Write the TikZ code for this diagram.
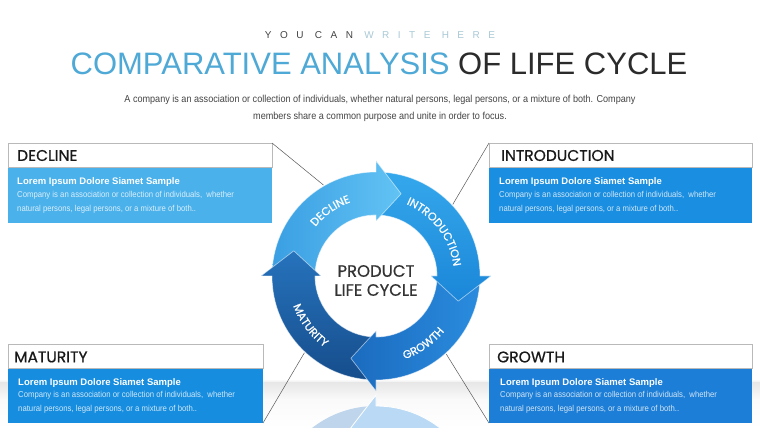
\documentclass[tikz,border=0pt]{standalone}
\usepackage{fontspec}
\setmainfont{Liberation Sans}
\newfontfamily\pop{Poppins}
\newfontfamily\popb[FakeBold=0.6]{Poppins}
\newfontfamily\narrow[FakeStretch=0.9]{Liberation Sans}
\newfontfamily\spaced[LetterSpace=85]{Liberation Sans}
\usetikzlibrary{decorations.text}

\definecolor{tblue}{HTML}{4FA9D6}
\definecolor{tdark}{HTML}{2B2B2B}
\definecolor{subdark}{HTML}{444444}
\definecolor{sublight}{HTML}{A9C9D6}
\definecolor{paragray}{HTML}{444444}
\definecolor{decbox}{HTML}{4AB1EB}
\definecolor{intbox}{HTML}{1A8EE0}
\definecolor{matbox}{HTML}{168DDF}
\definecolor{grobox}{HTML}{1C7ED6}
\definecolor{decA}{HTML}{62C3F4}
\definecolor{decB}{HTML}{3A9FE3}
\definecolor{intA}{HTML}{35A8EC}
\definecolor{intB}{HTML}{1B86D8}
\definecolor{groA}{HTML}{2A8CDE}
\definecolor{groB}{HTML}{1B6BBF}
\definecolor{matA}{HTML}{2673BC}
\definecolor{matB}{HTML}{164D8C}

\def\lcpath#1#2{(#1:104) arc[start angle=#1,end angle=#2,radius=104] -- (#2:115) -- ({#2-17}:86) -- (#2:55) -- (#2:61) arc[start angle=#2,end angle=#1,radius=61] -- cycle}
\newcommand\ringfont{\popb\fontsize{11.2}{13}\selectfont}

\tikzset{
  hdr/.style={draw=gray!55, fill=white, line width=0.6pt, inner sep=0pt, outer sep=0pt, anchor=north west},
  bodybox/.style={fill=#1, draw=none, inner sep=0pt, outer sep=0pt, anchor=north west},
  htext/.style={inner sep=0pt, anchor=west, font=\popb\fontsize{15.5}{17}\selectfont, text=black!90},
  ltext/.style={inner sep=0pt, anchor=base west, font=\bfseries\fontsize{9.5}{11}\selectfont, text=white},
  ctext/.style={inner sep=0pt, anchor=base west, font=\narrow\fontsize{8.6}{10}\selectfont, text=white!80!#1},
  conn/.style={draw=black!65, line width=0.5pt},
  edge/.style={draw=white, opacity=0.55, line width=0.7pt, line join=round},
  ringtext/.style={decorate, decoration={text along path, text align=center, text color=white, text={|\ringfont|#1}}},
  centertext/.style={inner sep=0pt, font=\popb\fontsize{16.5}{19}\selectfont, text=black!80}
}

\begin{document}
\begin{tikzpicture}[x=1pt,y=1pt]
\useasboundingbox (0,0) rectangle (760,428);
\fill[white] (0,0) rectangle (760,428);

% floor
\shade[top color=white, bottom color=gray!18] (0,45) rectangle (760,49);
\shade[top color=gray!18, bottom color=gray!4] (0,28) rectangle (760,45);
\shade[top color=gray!4, bottom color=white] (0,0) rectangle (760,28);

% headings
\node[inner sep=0pt] (sub) at (380,393) {\spaced\fontsize{10}{12}\selectfont\color{subdark}YOU\ CAN\ \color{sublight}WRITE\ HERE};
\node[inner sep=0pt] (title) at (379,364) {\fontsize{31}{36}\selectfont\color{tblue}COMPARATIVE ANALYSIS \color{tdark}OF LIFE CYCLE};
\node[inner sep=0pt, align=center, text=paragray, font=\narrow\fontsize{10.1}{17}\selectfont] (para) at (380,319.5)
  {A company is an association or collection of individuals, whether natural persons, legal persons, or a mixture of both. Company\\ members share a common purpose and unite in order to focus.};

% ring anchor points
\begin{scope}[shift={(376,152)}]
  \coordinate (rc) at (0,0);
  \coordinate (rDec) at (120:105);
  \coordinate (rInt) at (43:105);
  \coordinate (rMat) at (-133:105);
  \coordinate (rGro) at (-48:105);
\end{scope}

% boxes
\node[bodybox=decbox, minimum width=264, minimum height=56] (decB) at (8,261) {};
\node[hdr, minimum width=264, minimum height=24] (decH) at (8,285) {};
\node[htext] (decT) at (17,272.5) {DECLINE};
\node[ltext] (decL) at (17,243.5) {Lorem Ipsum Dolore Siamet Sample};
\node[ctext=decbox] (decC1) at (17,230.5) {Company is an association or collection of individuals,\ \ whether};
\node[ctext=decbox] (decC2) at (17,216.5) {natural persons, legal persons, or a mixture of both..};

\node[bodybox=intbox, minimum width=263, minimum height=56] (intB) at (489,261) {};
\node[hdr, minimum width=263, minimum height=24] (intH) at (489,285) {};
\node[htext] (intT) at (501,272.5) {INTRODUCTION};
\node[ltext] (intL) at (499,243.5) {Lorem Ipsum Dolore Siamet Sample};
\node[ctext=intbox] (intC1) at (499,230.5) {Company is an association or collection of individuals,\ \ whether};
\node[ctext=intbox] (intC2) at (499,216.5) {natural persons, legal persons, or a mixture of both..};

\node[bodybox=matbox, minimum width=255, minimum height=55] (matB) at (8,60) {};
\node[hdr, minimum width=255, minimum height=24] (matH) at (8,84) {};
\node[htext] (matT) at (14,71) {MATURITY};
\node[ltext] (matL) at (18,42.5) {Lorem Ipsum Dolore Siamet Sample};
\node[ctext=matbox] (matC1) at (18,30.5) {Company is an association or collection of individuals,\ \ whether};
\node[ctext=matbox] (matC2) at (18,16.5) {natural persons, legal persons, or a mixture of both..};

\node[bodybox=grobox, minimum width=263, minimum height=55] (groB) at (489,60) {};
\node[hdr, minimum width=263, minimum height=24] (groH) at (489,84) {};
\node[htext] (groT) at (497,71) {GROWTH};
\node[ltext] (groL) at (500,42.5) {Lorem Ipsum Dolore Siamet Sample};
\node[ctext=grobox] (groC1) at (500,30.5) {Company is an association or collection of individuals,\ \ whether};
\node[ctext=grobox] (groC2) at (500,16.5) {natural persons, legal persons, or a mixture of both..};

% connectors
\draw[conn] (decH.north east) -- (rDec);
\draw[conn] (intH.north west) -- (rInt);
\draw[conn] (matB.south east) -- (rMat);
\draw[conn] (groB.south west) -- (rGro);

% reflection
\begin{scope}
  \clip (290,0) rectangle (470,34);
  \begin{scope}[shift={(376,-82)}, yscale=-1]
    \fill[decA!30!white] \lcpath{180}{90};
    \fill[matA!30!white] \lcpath{-90}{-180};
    \fill[groA!33!white] \lcpath{0}{-90};
    \fill[intA!30!white] \lcpath{90}{0};
    \draw[white, line width=0.8pt] \lcpath{0}{-90};
  \end{scope}
\end{scope}

% ring
\begin{scope}[shift={(376,152)}]
  \shade[left color=decB, right color=decA] \lcpath{180}{90};
  \draw[edge] \lcpath{180}{90};
  \shade[top color=matA, bottom color=matB] \lcpath{-90}{-180};
  \draw[edge] \lcpath{-90}{-180};
  \shade[left color=groB, right color=groA] \lcpath{0}{-90};
  \draw[edge] \lcpath{0}{-90};
  \shade[top color=intA, bottom color=intB] \lcpath{90}{0};
  \draw[edge] \lcpath{90}{0};
  \begin{scope}
    \clip (0,0) -- (96:130) arc[start angle=96, end angle=60, radius=130] -- cycle;
    \shade[left color=decB, right color=decA] \lcpath{180}{90};
    \draw[edge] \lcpath{180}{90};
  \end{scope}
  \path[ringtext=DECLINE] (165:78) arc[start angle=165, end angle=85, radius=78];
  \path[ringtext=INTRODUCTION] (100:78) arc[start angle=100, end angle=-26, radius=78];
  \path[ringtext=GROWTH] (-100:88) arc[start angle=-100, end angle=-10, radius=88];
  \path[ringtext=MATURITY] (-193:88) arc[start angle=-193, end angle=-93, radius=88];
  \node[centertext] (p1) at (0,5) {PRODUCT};
  \node[centertext] (p2) at (0,-14) {LIFE CYCLE};
\end{scope}
\end{tikzpicture}
\end{document}
